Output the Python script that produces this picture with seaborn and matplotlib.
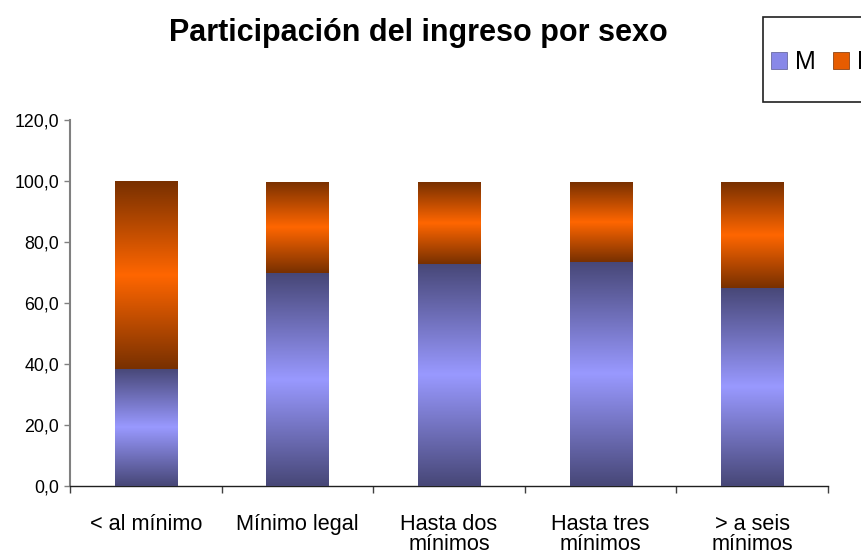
import numpy as np
import pandas as pd
import matplotlib.pyplot as plt
import seaborn as sns
from matplotlib.colors import LinearSegmentedColormap
from matplotlib.patches import Patch, Rectangle
from matplotlib.ticker import FuncFormatter, FixedLocator

# datos
categorias = ['< al mínimo', 'Mínimo legal', 'Hasta dos\nmínimos',
              'Hasta tres\nmínimos', '> a seis\nmínimos']
masculino = [38.4, 69.7, 72.9, 73.5, 65.0]
femenino = [61.6, 30.0, 26.8, 26.2, 34.7]

df = pd.DataFrame({'categoria': categorias, 'M': masculino, 'F': femenino})
df['total'] = df['M'] + df['F']

sns.set_style('white')
plt.rcParams['font.family'] = ['Liberation Sans', 'DejaVu Sans']
plt.rcParams['text.color'] = 'black'
plt.rcParams['xtick.color'] = 'black'
plt.rcParams['ytick.color'] = 'black'

fig = plt.figure(figsize=(8.62, 5.56), dpi=100)
ax = fig.add_axes([70 / 862, 70 / 556, 758 / 862, 366 / 556])

ancho = 0.41
sns.barplot(data=df, x='categoria', y='total', color='white', width=ancho,
            ax=ax, linewidth=0)
sns.barplot(data=df, x='categoria', y='M', color='white', width=ancho,
            ax=ax, linewidth=0)

# degradados tipo Excel: oscuro arriba y abajo, claro en el centro
cmap_m = LinearSegmentedColormap.from_list('m', ['#474777', '#9999ff', '#474777'])
cmap_f = LinearSegmentedColormap.from_list('f', ['#783000', '#ff6600', '#783000'])
grad = np.linspace(0, 1, 256).reshape(-1, 1)

n = len(categorias)
tot_patches = ax.patches[:n]
m_patches = ax.patches[n:2 * n]
for pt, pm in zip(tot_patches, m_patches):
    x0 = pm.get_x()
    x1 = x0 + pm.get_width()
    ym = pm.get_height()
    yt = pt.get_height()
    im = ax.imshow(grad, extent=(x0, x1, 0, ym), cmap=cmap_m, aspect='auto',
                   origin='lower', zorder=3, interpolation='bilinear')
    im.set_clip_path(pm)
    im2 = ax.imshow(grad, extent=(x0, x1, ym, yt), cmap=cmap_f, aspect='auto',
                    origin='lower', zorder=3, interpolation='bilinear')
    im2.set_clip_path(pt)

ax.set_xlim(-0.5, n - 0.5)
ax.set_ylim(0, 120)
ax.set_yticks(np.arange(0, 121, 20))
ax.yaxis.set_major_formatter(FuncFormatter(lambda v, p: f'{v:.1f}'.replace('.', ',')))
ax.tick_params(axis='y', direction='out', length=4, width=1, color='#808080',
               labelsize=12.8, pad=4, left=True)
ax.set_xticks(range(n))
ax.set_xticklabels(categorias)
ax.tick_params(axis='x', which='major', length=0, labelsize=15.6, pad=20)
ax.xaxis.set_minor_locator(FixedLocator(np.arange(-0.5, n, 1)))
ax.tick_params(axis='x', which='minor', direction='out', length=5, width=1,
               color='#404040', bottom=True)
for lab in ax.get_xticklabels():
    lab.set_verticalalignment('top')
    lab.set_linespacing(0.95)

ax.set_xlabel('')
ax.set_ylabel('')
for s in ['top', 'right']:
    ax.spines[s].set_visible(False)
ax.spines['left'].set_color('#808080')
ax.spines['left'].set_linewidth(1.5)
ax.spines['bottom'].set_color('#202020')
ax.spines['bottom'].set_linewidth(1)

fig.text(418 / 862, 1 - 33 / 556, 'Participación del ingreso por sexo',
         ha='center', va='center', fontsize=22, fontweight='bold')

# marco de la leyenda (sale por el borde derecho como en el original)
fig.patches.append(Rectangle((763 / 862, 1 - 102 / 556), 130 / 862, 85 / 556,
                             transform=fig.transFigure, facecolor='white',
                             edgecolor='#202020', linewidth=1.2, zorder=1))

handles = [Patch(facecolor='#8888e8', edgecolor='#5a5a90', linewidth=0.5),
           Patch(facecolor='#e65c00', edgecolor='#783000', linewidth=0.5)]
leg = fig.legend(handles, ['M', 'F'], loc='center left', ncol=2,
                 bbox_to_anchor=(771 / 862, 1 - 62 / 556),
                 fontsize=18, frameon=False, borderpad=0,
                 handlelength=0.65, handleheight=0.65, handletextpad=0.3,
                 columnspacing=0.7, borderaxespad=0)
leg.set_zorder(2)

fig.savefig('out.png', dpi=100)
